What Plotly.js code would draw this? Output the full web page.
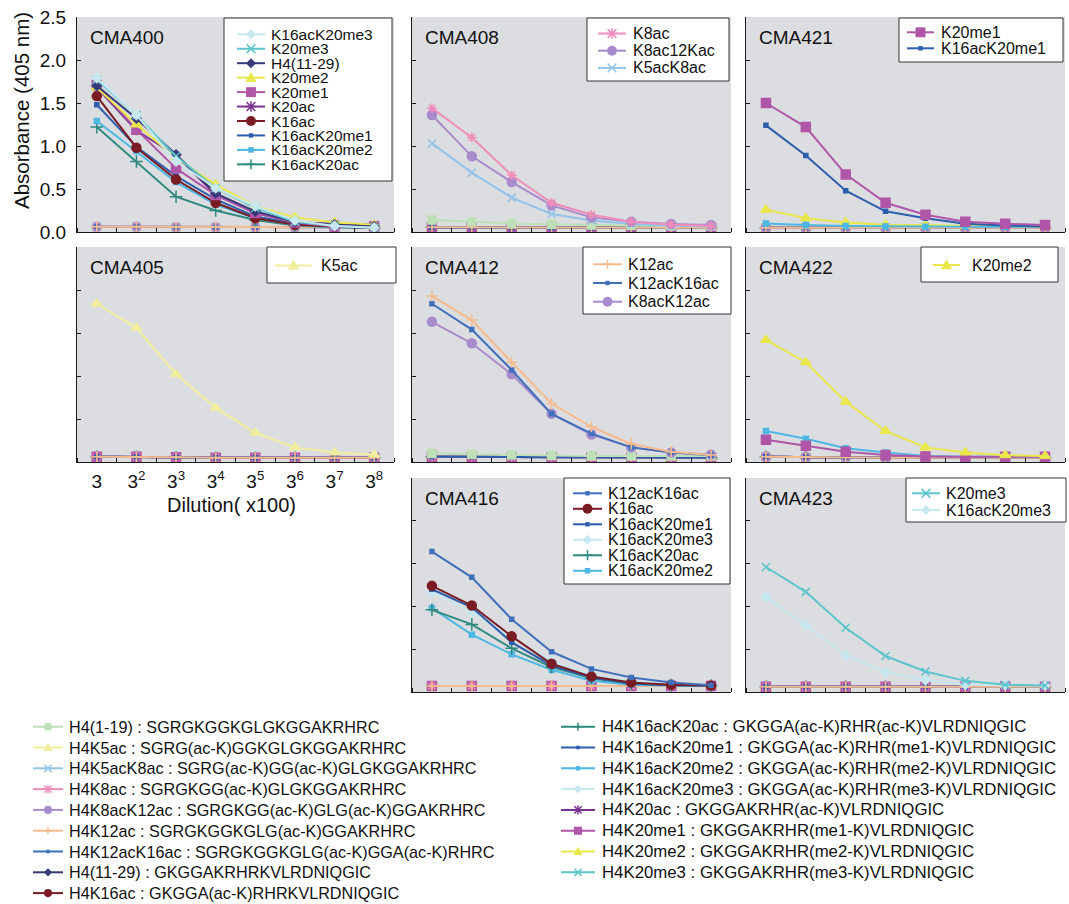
<!DOCTYPE html>
<html><head><meta charset="utf-8">
<script src="https://cdn.plot.ly/plotly-3.0.1.min.js"></script>
<style>html,body{margin:0;padding:0;background:#fff}</style>
</head><body><div id="chart" style="width:1069px;height:904px"></div>
<script>
// ================= DATA =================
const dilutionIndex = [1, 2, 3, 4, 5, 6, 7, 8];
const dilutionLabels = ['3', '3<sup>2</sup>', '3<sup>3</sup>', '3<sup>4</sup>', '3<sup>5</sup>', '3<sup>6</sup>', '3<sup>7</sup>', '3<sup>8</sup>'];
const yTickVals = [0, 0.5, 1, 1.5, 2, 2.5];
const yTickText = ['0.0', '0.5', '1.0', '1.5', '2.0', '2.5'];

const peptideKeys = ['H4(1-19)', 'K5ac', 'K5acK8ac', 'K8ac', 'K8acK12ac', 'K12ac', 'K12acK16ac', 'H4(11-29)', 'K16ac',
  'K16acK20ac', 'K16acK20me1', 'K16acK20me2', 'K16acK20me3', 'K20ac', 'K20me1', 'K20me2', 'K20me3'];
const peptideLabels = [
  'H4(1-19) : SGRGKGGKGLGKGGAKRHRC',
  'H4K5ac : SGRG(ac-K)GGKGLGKGGAKRHRC',
  'H4K5acK8ac : SGRG(ac-K)GG(ac-K)GLGKGGAKRHRC',
  'H4K8ac : SGRGKGG(ac-K)GLGKGGAKRHRC',
  'H4K8acK12ac : SGRGKGG(ac-K)GLG(ac-K)GGAKRHRC',
  'H4K12ac : SGRGKGGKGLG(ac-K)GGAKRHRC',
  'H4K12acK16ac : SGRGKGGKGLG(ac-K)GGA(ac-K)RHRC',
  'H4(11-29) : GKGGAKRHRKVLRDNIQGIC',
  'H4K16ac : GKGGA(ac-K)RHRKVLRDNIQGIC',
  'H4K16acK20ac : GKGGA(ac-K)RHR(ac-K)VLRDNIQGIC',
  'H4K16acK20me1 : GKGGA(ac-K)RHR(me1-K)VLRDNIQGIC',
  'H4K16acK20me2 : GKGGA(ac-K)RHR(me2-K)VLRDNIQGIC',
  'H4K16acK20me3 : GKGGA(ac-K)RHR(me3-K)VLRDNIQGIC',
  'H4K20ac : GKGGAKRHR(ac-K)VLRDNIQGIC',
  'H4K20me1 : GKGGAKRHR(me1-K)VLRDNIQGIC',
  'H4K20me2 : GKGGAKRHR(me2-K)VLRDNIQGIC',
  'H4K20me3 : GKGGAKRHR(me3-K)VLRDNIQGIC'
];
const panelNames = ['CMA400', 'CMA408', 'CMA421', 'CMA405', 'CMA412', 'CMA422', 'CMA416', 'CMA423'];

// CMA400
const cma400_K16acK20me3 = [1.79, 1.36, 0.82, 0.51, 0.30, 0.135, 0.07, 0.05];
const cma400_K20me3      = [1.77, 1.36, 0.88, 0.51, 0.28, 0.12, 0.07, 0.05];
const cma400_H4_11_29    = [1.70, 1.32, 0.90, 0.45, 0.24, 0.12, 0.085, 0.065];
const cma400_K20me2      = [1.68, 1.25, 0.86, 0.55, 0.30, 0.17, 0.11, 0.085];
const cma400_K20me1      = [1.71, 1.19, 0.74, 0.43, 0.22, 0.11, 0.065, 0.065];
const cma400_K20ac       = [1.68, 1.18, 0.89, 0.43, 0.22, 0.11, 0.10, 0.085];
const cma400_K16ac       = [1.58, 0.98, 0.61, 0.34, 0.16, 0.085, 0.06, 0.05];
const cma400_K16acK20me1 = [1.48, 0.99, 0.65, 0.38, 0.18, 0.10, 0.065, 0.05];
const cma400_K16acK20me2 = [1.29, 0.94, 0.58, 0.32, 0.16, 0.08, 0.055, 0.05];
const cma400_K16acK20ac  = [1.22, 0.82, 0.41, 0.25, 0.14, 0.075, 0.055, 0.05];
const cma400_baseline    = [0.06, 0.06, 0.055, 0.055, 0.055, 0.055, 0.055, 0.055];

// CMA408
const cma408_K8ac      = [1.44, 1.10, 0.66, 0.34, 0.20, 0.12, 0.085, 0.073];
const cma408_K8acK12ac = [1.36, 0.88, 0.58, 0.31, 0.17, 0.12, 0.093, 0.08];
const cma408_K5acK8ac  = [1.03, 0.69, 0.40, 0.21, 0.135, 0.093, 0.073, 0.065];
const cma408_H4_1_19   = [0.14, 0.12, 0.10, 0.09, 0.08, 0.075, 0.07, 0.07];
const cma408_baseline  = [0.055, 0.055, 0.05, 0.05, 0.05, 0.05, 0.05, 0.05];

// CMA421
const cma421_K20me1      = [1.50, 1.22, 0.67, 0.34, 0.20, 0.12, 0.097, 0.08];
const cma421_K16acK20me1 = [1.24, 0.89, 0.48, 0.24, 0.16, 0.097, 0.077, 0.065];
const cma421_K20me2      = [0.26, 0.16, 0.11, 0.085, 0.08, 0.07, 0.07, 0.065];
const cma421_K16acK20me2 = [0.10, 0.08, 0.07, 0.065, 0.06, 0.06, 0.06, 0.06];
const cma421_baseline    = [0.05, 0.05, 0.05, 0.05, 0.05, 0.05, 0.05, 0.05];

// CMA405
const cma405_K5ac     = [1.84, 1.56, 1.02, 0.63, 0.34, 0.17, 0.11, 0.086];
const cma405_baseline = [0.06, 0.06, 0.055, 0.05, 0.05, 0.05, 0.05, 0.05];

// CMA412
const cma412_K12ac      = [1.93, 1.65, 1.16, 0.68, 0.41, 0.21, 0.12, 0.08];
const cma412_K12acK16ac = [1.84, 1.54, 1.07, 0.56, 0.33, 0.17, 0.11, 0.078];
const cma412_K8acK12ac  = [1.63, 1.38, 1.02, 0.56, 0.32, 0.17, 0.11, 0.086];
const cma412_H4_1_19    = [0.10, 0.09, 0.08, 0.075, 0.07, 0.07, 0.07, 0.07];
const cma412_baseline   = [0.06, 0.06, 0.055, 0.055, 0.055, 0.055, 0.05, 0.05];

// CMA422
const cma422_K20me2      = [1.42, 1.16, 0.70, 0.36, 0.17, 0.11, 0.078, 0.07];
const cma422_K16acK20me2 = [0.36, 0.27, 0.16, 0.11, 0.07, 0.06, 0.06, 0.06];
const cma422_K20me1      = [0.26, 0.19, 0.12, 0.08, 0.065, 0.06, 0.06, 0.06];
const cma422_baseline    = [0.06, 0.055, 0.055, 0.05, 0.05, 0.05, 0.05, 0.05];

// CMA416
const cma416_K12acK16ac  = [1.64, 1.34, 0.85, 0.47, 0.27, 0.17, 0.11, 0.08];
const cma416_K16ac       = [1.24, 1.01, 0.65, 0.33, 0.18, 0.11, 0.085, 0.075];
const cma416_K16acK20me1 = [1.20, 0.99, 0.58, 0.31, 0.17, 0.10, 0.08, 0.075];
const cma416_K16acK20me3 = [1.17, 0.93, 0.64, 0.36, 0.20, 0.13, 0.09, 0.075];
const cma416_K16acK20ac  = [0.96, 0.79, 0.51, 0.29, 0.16, 0.095, 0.08, 0.075];
const cma416_K16acK20me2 = [0.98, 0.67, 0.44, 0.26, 0.13, 0.085, 0.075, 0.07];
const cma416_baseline    = [0.07, 0.07, 0.07, 0.07, 0.07, 0.07, 0.07, 0.07];

// CMA423
const cma423_K20me3      = [1.46, 1.17, 0.75, 0.42, 0.24, 0.13, 0.085, 0.075];
const cma423_K16acK20me3 = [1.11, 0.78, 0.43, 0.23, 0.14, 0.085, 0.08, 0.075];
const cma423_baseline    = [0.06, 0.06, 0.06, 0.06, 0.06, 0.06, 0.06, 0.06];

// ================= PANEL ASSEMBLY =================
const panelSeries = [
  { legend: [['K16acK20me3', cma400_K16acK20me3], ['K20me3', cma400_K20me3], ['H4(11-29)', cma400_H4_11_29],
             ['K20me2', cma400_K20me2], ['K20me1', cma400_K20me1], ['K20ac', cma400_K20ac], ['K16ac', cma400_K16ac],
             ['K16acK20me1', cma400_K16acK20me1], ['K16acK20me2', cma400_K16acK20me2], ['K16acK20ac', cma400_K16acK20ac]],
    extra: [], base: cma400_baseline },
  { legend: [['K8ac', cma408_K8ac], ['K8acK12ac', cma408_K8acK12ac, 'K8ac12Kac'], ['K5acK8ac', cma408_K5acK8ac]],
    extra: [['H4(1-19)', cma408_H4_1_19]], base: cma408_baseline },
  { legend: [['K20me1', cma421_K20me1], ['K16acK20me1', cma421_K16acK20me1]],
    extra: [['K20me2', cma421_K20me2], ['K16acK20me2', cma421_K16acK20me2]], base: cma421_baseline },
  { legend: [['K5ac', cma405_K5ac]], extra: [], base: cma405_baseline },
  { legend: [['K12ac', cma412_K12ac], ['K12acK16ac', cma412_K12acK16ac], ['K8acK12ac', cma412_K8acK12ac]],
    extra: [['H4(1-19)', cma412_H4_1_19]], base: cma412_baseline },
  { legend: [['K20me2', cma422_K20me2]],
    extra: [['K16acK20me2', cma422_K16acK20me2], ['K20me1', cma422_K20me1]], base: cma422_baseline },
  { legend: [['K12acK16ac', cma416_K12acK16ac], ['K16ac', cma416_K16ac], ['K16acK20me1', cma416_K16acK20me1],
             ['K16acK20me3', cma416_K16acK20me3], ['K16acK20ac', cma416_K16acK20ac], ['K16acK20me2', cma416_K16acK20me2]],
    extra: [], base: cma416_baseline },
  { legend: [['K20me3', cma423_K20me3], ['K16acK20me3', cma423_K16acK20me3]], extra: [], base: cma423_baseline }
];

// ================= STYLE / LAYOUT =================
const STYLE = {
  'H4(1-19)':    { color: '#bde0b6', symbol: 'square', size: 8 },
  'K5ac':        { color: '#f0ee9c', symbol: 'triangle-up', size: 9 },
  'K5acK8ac':    { color: '#93c2ea', symbol: 'x-thin-open', size: 8 },
  'K8ac':        { color: '#f08dba', symbol: 'asterisk-open', size: 8 },
  'K8acK12ac':   { color: '#a88bcd', symbol: 'circle', size: 9 },
  'K12ac':       { color: '#f6bb8c', symbol: 'cross-thin-open', size: 8 },
  'K12acK16ac':  { color: '#4170bb', symbol: 'square', size: 4 },
  'H4(11-29)':   { color: '#363a7a', symbol: 'diamond', size: 7 },
  'K16ac':       { color: '#7b1c24', symbol: 'circle', size: 9 },
  'K16acK20ac':  { color: '#2e8a7e', symbol: 'cross-thin-open', size: 9 },
  'K16acK20me1': { color: '#2d5dab', symbol: 'square', size: 4 },
  'K16acK20me2': { color: '#4db8e3', symbol: 'square', size: 5 },
  'K16acK20me3': { color: '#c6e8ee', symbol: 'diamond', size: 7 },
  'K20ac':       { color: '#7a3390', symbol: 'asterisk-open', size: 8 },
  'K20me1':      { color: '#b056a8', symbol: 'square', size: 9 },
  'K20me2':      { color: '#e9e74a', symbol: 'triangle-up', size: 9 },
  'K20me3':      { color: '#5cc4cd', symbol: 'x-thin-open', size: 8 }
};
// draw order for the low (non-featured) curves
const baselineOrder = ['K16acK20me3', 'K20me3', 'H4(1-19)', 'K5ac', 'K20me2', 'K5acK8ac', 'H4(11-29)',
  'K16ac', 'K16acK20ac', 'K16acK20me2', 'K20ac', 'K8acK12ac', 'K20me1', 'K8ac', 'K12acK16ac', 'K16acK20me1', 'K12ac'];

const FONT = 'Liberation Sans, Arial, Helvetica, sans-serif';
const W = 1069, H = 904;
const colPx = [[77, 394], [412, 731], [746, 1065]];
const rowPx = [[17, 232], [247, 462], [478, 692]];
const panelPos = [[0, 0], [0, 1], [0, 2], [1, 0], [1, 1], [1, 2], [2, 1], [2, 2]];
// in-panel legend boxes (pixels): box, key line start/length, text x, first row y, row step, font size
const legendGeom = [
  { box: [224, 18, 392, 181], lx: 237, ll: 28, tx: 270, y0: 34.3, dy: 14.45, fs: 15.5 },
  { box: [587, 18, 729, 81], lx: 598, ll: 28, tx: 632, y0: 33.5, dy: 17.2, fs: 16 },
  { box: [899, 18, 1063, 62], lx: 907, ll: 27, tx: 940, y0: 32.3, dy: 16, fs: 16 },
  { box: [267, 247, 396, 283], lx: 275, ll: 37, tx: 320, y0: 265.5, dy: 0, fs: 16 },
  { box: [583, 247, 731, 314], lx: 593, ll: 29, tx: 627, y0: 264.3, dy: 18.7, fs: 16 },
  { box: [921, 247, 1058, 282], lx: 933, ll: 27, tx: 971, y0: 265, dy: 0, fs: 16 },
  { box: [564, 478, 730, 584], lx: 573, ll: 29, tx: 607, y0: 493.3, dy: 15.5, fs: 16 },
  { box: [906, 478, 1066, 522], lx: 912, ll: 28, tx: 945, y0: 493.3, dy: 16.7, fs: 16 }
];
const keyGeom = [
  { lx: 33, ll: 30, tx: 68, y0: 726.7, dy: 20.8, fs: 16.2 },
  { lx: 561, ll: 34, tx: 601, y0: 726.7, dy: 20.8, fs: 16.8 }
];

const X = px => px / W;
const Y = py => 1 - py / H;

function styleTrace(key) {
  const s = STYLE[key];
  return {
    line: { color: s.color, width: 2 },
    marker: { color: s.color, symbol: s.symbol, size: s.size, line: { color: s.color, width: 1.5 } }
  };
}

const traces = [];
const shapes = [];
const annotations = [];

function P(x, y) { return X(x).toFixed(5) + ',' + Y(y).toFixed(5); }
function keySymbol(key, cx, cy, scale) {
  const s = STYLE[key];
  const r = s.size / 2 * scale;
  const base = { xref: 'paper', yref: 'paper', layer: 'above' };
  const col = s.color;
  switch (s.symbol) {
    case 'square':
      shapes.push(Object.assign({ type: 'rect', x0: X(cx - r), x1: X(cx + r), y0: Y(cy + r), y1: Y(cy - r),
        fillcolor: col, line: { width: 0 } }, base));
      break;
    case 'circle':
      shapes.push(Object.assign({ type: 'circle', x0: X(cx - r), x1: X(cx + r), y0: Y(cy + r), y1: Y(cy - r),
        fillcolor: col, line: { width: 0 } }, base));
      break;
    case 'triangle-up': {
      const a = r * 1.15;
      shapes.push(Object.assign({ type: 'path', path: 'M' + P(cx, cy - a) + 'L' + P(cx + a, cy + a * 0.75) + 'L' + P(cx - a, cy + a * 0.75) + 'Z',
        fillcolor: col, line: { width: 0 } }, base));
      break;
    }
    case 'diamond': {
      const a = r * 1.3;
      shapes.push(Object.assign({ type: 'path', path: 'M' + P(cx, cy - a) + 'L' + P(cx + a, cy) + 'L' + P(cx, cy + a) + 'L' + P(cx - a, cy) + 'Z',
        fillcolor: col, line: { width: 0 } }, base));
      break;
    }
    case 'x-thin-open':
      shapes.push(Object.assign({ type: 'path', path: 'M' + P(cx - r, cy - r) + 'L' + P(cx + r, cy + r) + 'M' + P(cx - r, cy + r) + 'L' + P(cx + r, cy - r),
        line: { color: col, width: 1.5 } }, base));
      break;
    case 'cross-thin-open':
      shapes.push(Object.assign({ type: 'path', path: 'M' + P(cx - r, cy) + 'L' + P(cx + r, cy) + 'M' + P(cx, cy - r) + 'L' + P(cx, cy + r),
        line: { color: col, width: 1.5 } }, base));
      break;
    case 'asterisk-open':
      shapes.push(Object.assign({ type: 'path', path: 'M' + P(cx - r, cy - r) + 'L' + P(cx + r, cy + r) + 'M' + P(cx - r, cy + r) + 'L' + P(cx + r, cy - r) +
        'M' + P(cx - r * 1.2, cy) + 'L' + P(cx + r * 1.2, cy) + 'M' + P(cx, cy - r * 1.2) + 'L' + P(cx, cy + r * 1.2),
        line: { color: col, width: 1.5 } }, base));
      break;
  }
}
function keyEntry(key, label, g, row, scale) {
  const cy = g.y0 + row * g.dy;
  shapes.push({ type: 'line', xref: 'paper', yref: 'paper', layer: 'above',
    x0: X(g.lx), x1: X(g.lx + g.ll), y0: Y(cy), y1: Y(cy), line: { color: STYLE[key].color, width: 2 } });
  keySymbol(key, g.lx + g.ll / 2, cy, scale);
  annotations.push({ text: label, xref: 'paper', yref: 'paper', x: X(g.tx), y: Y(cy), xanchor: 'left', yanchor: 'middle',
    showarrow: false, borderpad: 0, font: { size: g.fs, family: FONT, color: '#111' } });
}

const layout = {
  width: W, height: H, margin: { l: 0, r: 0, t: 0, b: 0, autoexpand: false },
  paper_bgcolor: '#ffffff', plot_bgcolor: '#dcdde0',
  font: { family: FONT, color: '#111' }, showlegend: false
};

panelSeries.forEach((p, i) => {
  const s = i === 0 ? '' : String(i + 1);
  const [r, c] = panelPos[i];
  layout['xaxis' + s] = {
    domain: [X(colPx[c][0]), X(colPx[c][1])], anchor: 'y' + s, range: [0.5, 8.5], fixedrange: true,
    showline: true, linecolor: '#1a1a1a', linewidth: 1, showgrid: false, zeroline: false,
    tickmode: 'array', tickvals: dilutionIndex, ticktext: dilutionLabels, ticks: '',
    showticklabels: i === 3, tickfont: { size: 19, family: FONT, color: '#111' }, ticklabelstandoff: 2,
    minor: { tickmode: 'linear', tick0: 0.5, dtick: 1, ticks: 'inside', ticklen: 4, tickcolor: '#1a1a1a', tickwidth: 1, showgrid: false }
  };
  layout['yaxis' + s] = {
    domain: [Y(rowPx[r][1]), Y(rowPx[r][0])], anchor: 'x' + s, range: [0, 2.5], fixedrange: true,
    showline: true, linecolor: '#1a1a1a', linewidth: 1, showgrid: false, zeroline: false,
    tickmode: 'array', tickvals: yTickVals, ticktext: yTickText, ticks: 'inside', ticklen: 4, tickcolor: '#1a1a1a',
    showticklabels: i === 0, tickfont: { size: 19, family: FONT, color: '#111' }, ticklabelstandoff: 6
  };
  annotations.push({
    text: panelNames[i], xref: 'x' + s + ' domain', yref: 'y' + s + ' domain',
    x: 0.036, y: 0.905, xanchor: 'left', yanchor: 'middle', showarrow: false,
    font: { size: 19, family: FONT, color: '#111' }
  });
  const featured = new Set(p.legend.map(e => e[0]).concat(p.extra.map(e => e[0])));
  baselineOrder.forEach(k => {
    if (featured.has(k)) return;
    traces.push(Object.assign({ type: 'scatter', mode: 'lines+markers', x: dilutionIndex, y: p.base,
      xaxis: 'x' + s, yaxis: 'y' + s, name: k, hoverinfo: 'skip' }, styleTrace(k)));
  });
  p.extra.forEach(e => {
    traces.push(Object.assign({ type: 'scatter', mode: 'lines+markers', x: dilutionIndex, y: e[1],
      xaxis: 'x' + s, yaxis: 'y' + s, name: e[0] }, styleTrace(e[0])));
  });
  p.legend.slice().reverse().forEach(e => {
    traces.push(Object.assign({ type: 'scatter', mode: 'lines+markers', x: dilutionIndex, y: e[1],
      xaxis: 'x' + s, yaxis: 'y' + s, name: e[2] || e[0] }, styleTrace(e[0])));
  });
  // in-panel legend box
  const g = legendGeom[i];
  shapes.push({ type: 'rect', xref: 'paper', yref: 'paper', layer: 'above',
    x0: X(g.box[0]), x1: X(g.box[2]), y0: Y(g.box[3]), y1: Y(g.box[1]),
    fillcolor: '#ffffff', line: { color: '#333333', width: 1 } });
  p.legend.forEach((e, j) => keyEntry(e[0], e[2] || e[0], g, j, 1.1));
});

// bottom key (two columns)
peptideKeys.forEach((k, j) => {
  const col = j < 9 ? 0 : 1;
  keyEntry(k, peptideLabels[j], keyGeom[col], col === 0 ? j : j - 9, 0.9);
});

// axis titles
annotations.push({
  text: 'Absorbance (405 nm)', xref: 'paper', yref: 'paper', x: X(22), y: Y(111),
  textangle: -90, showarrow: false, xanchor: 'center', yanchor: 'middle',
  font: { size: 20.5, family: FONT, color: '#111' }
});
annotations.push({
  text: 'Dilution( x100)', xref: 'paper', yref: 'paper', x: X(231), y: Y(505),
  showarrow: false, xanchor: 'center', yanchor: 'middle',
  font: { size: 20, family: FONT, color: '#111' }
});

layout.shapes = shapes;
layout.annotations = annotations;

Plotly.newPlot('chart', traces, layout, { staticPlot: true, displayModeBar: false });
</script>
</body></html>
